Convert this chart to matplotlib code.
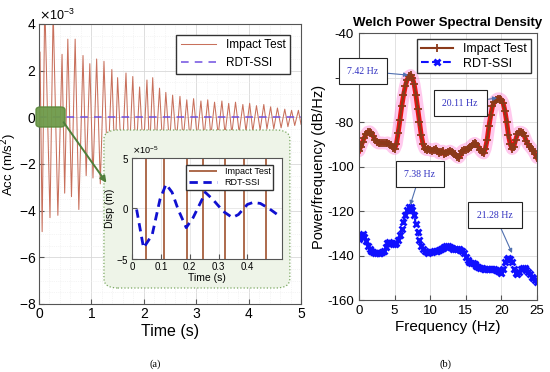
import matplotlib
matplotlib.use("Agg")
import matplotlib.pyplot as plt
from matplotlib.patches import FancyBboxPatch, FancyArrowPatch
from matplotlib.ticker import AutoMinorLocator
import numpy as np

plt.rcParams['font.family'] = ['Liberation Sans', 'DejaVu Sans']
plt.rcParams['axes.unicode_minus'] = False

# ---- (a) acceleration time history, peaks / troughs (x1e-3 m/s^2)
peak_t = [0.02, 0.11, 0.27, 0.44, 0.55, 0.69, 0.84, 0.97, 1.10, 1.24, 1.39, 1.50, 1.66,
          1.79, 1.92, 2.06, 2.17, 2.30, 2.42, 2.55, 2.69, 2.82, 2.95, 3.09, 3.22, 3.35,
          3.49, 3.62, 3.75, 3.89, 4.02, 4.15, 4.29, 4.42, 4.55, 4.69, 4.82, 4.95]
peak_v = [2.8, 5.0, 4.6, 2.7, 3.35, 3.35, 2.65, 2.3, 2.5, 2.4, 2.05, 1.7, 1.9,
          1.75, 1.3, 1.6, 1.7, 1.25, 1.07, 0.95, 0.9, 0.75, 0.8, 0.7, 0.75, 0.65,
          0.7, 0.6, 0.65, 0.55, 0.6, 0.5, 0.55, 0.45, 0.4, 0.35, 0.3, 0.3]
trough_t = [0.06, 0.21, 0.36, 0.49, 0.62, 0.76, 0.90, 1.03, 1.17, 1.31, 1.45, 1.58, 1.72,
            1.85, 1.99, 2.11, 2.23, 2.36, 2.49, 2.62, 2.75, 2.88, 3.02, 3.15, 3.28, 3.42,
            3.55, 3.68, 3.82, 3.95, 4.08, 4.22, 4.35, 4.48, 4.62, 4.75, 4.88, 5.0]
trough_v = [-4.9, -4.3, -4.2, -3.25, -3.4, -3.95, -2.5, -2.6, -2.85, -2.4, -2.2, -2.1, -1.9,
            -1.8, -1.6, -1.5, -1.4, -1.3, -1.2, -1.1, -1.0, -0.95, -0.9, -0.85, -0.8, -0.75,
            -0.7, -0.7, -0.65, -0.6, -0.6, -0.55, -0.5, -0.5, -0.45, -0.4, -0.35, -0.3]
rdt_t = [0, 5]
rdt_v = [0, 0]

# inset: displacement (x1e-5 m)
imp_line_t = [0.049, 0.111, 0.191, 0.247, 0.323, 0.390, 0.466]
ins_t = [0.016, 0.04, 0.07, 0.097, 0.118, 0.139, 0.16, 0.188, 0.212, 0.243, 0.254,
         0.28, 0.317, 0.348, 0.369, 0.40, 0.42, 0.445, 0.475, 0.504]
ins_v = [-0.1, -3.9, -2.6, 0.9, 2.4, 1.6, -0.1, -1.9, -0.9, 0.9, 1.6,
         0.9, -0.3, -0.9, -0.6, 0.4, 0.6, 0.5, 0.0, -0.6]

# ---- (b) Welch PSD, 0.25 Hz steps
freq = np.arange(0, 25.01, 0.25)
psd_imp = [-93, -91, -89, -87, -85.5, -84.5, -84.3, -85, -86.5, -88, -89, -89.5, -89.5,
           -89.3, -89.5, -89.5, -89.3, -89.8, -90.5, -91.5, -92, -90, -85, -79, -73, -68,
           -64, -61, -59.5, -59, -60, -63, -68, -74, -80, -86, -90, -92, -92.5, -92,
           -92.5, -93, -92.5, -92, -93, -94, -93.5, -93, -94.5, -94, -93.5, -93, -93.5,
           -94, -94.5, -95.5, -96, -95, -93, -92.5, -92.5, -92, -91.5, -91, -90, -89.5,
           -90, -91, -92.5, -93.5, -94, -92, -88, -82, -77, -73, -71, -70, -69.5, -69.5,
           -70, -71.5, -75, -80, -86, -90, -92, -91, -88, -85.5, -84.5, -84.5, -85, -86.5,
           -88.5, -90, -91, -92, -93, -94.5, -96]
psd_rdt = [-132.5, -131, -130.5, -131.5, -133.5, -135.5, -137, -138, -138.5, -139, -139,
           -139, -139, -138.5, -138, -136, -134.5, -134, -134.5, -135, -135, -134.5, -133,
           -131, -128, -125, -122, -119.5, -118, -118, -119.5, -122, -126, -129.5, -133,
           -135.5, -137, -138, -138.5, -139, -138.5, -138.5, -138, -138, -138, -137.5, -137,
           -136.5, -136, -135.5, -135.5, -136, -136.5, -137, -137, -137, -137, -137.5, -138,
           -139, -140.5, -142, -143, -143.5, -143.5, -144, -144.5, -145, -145.5, -145.5, -146,
           -146, -146, -146, -146, -146, -146, -146.5, -147, -147.5, -148, -146, -143, -141.5,
           -141, -141.5, -143, -146, -148, -148.5, -147.5, -146, -145.5, -145.5, -146.5,
           -147.5, -148.5, -149.5, -150, -151, -152]

sig_t = [0.0]
sig_v = [0.0]
for pt, pv, tt, tv in zip(peak_t, peak_v, trough_t, trough_v):
    sig_t += [pt, tt]
    sig_v += [pv, tv]
sig_v = np.array(sig_v) * 1e-3

fig = plt.figure(figsize=(5.5, 3.72), dpi=100)

# ---------------- left panel
ax = fig.add_axes([0.0709, 0.1828, 0.4764, 0.7527])
ax.plot(sig_t, sig_v, color='#c8705c', lw=0.75, label='Impact Test')
ax.plot(rdt_t, rdt_v, color='#7050e0', lw=1.1, ls=(0, (5, 4)), label='RDT-SSI')
ax.set_xlim(0, 5)
ax.set_ylim(-8e-3, 4e-3)
ax.set_yticks(np.arange(-8e-3, 4.1e-3, 2e-3))
ax.ticklabel_format(axis='y', style='sci', scilimits=(0, 0), useMathText=True)
ax.yaxis.get_offset_text().set_fontsize(9)
ax.xaxis.set_minor_locator(AutoMinorLocator(5))
ax.yaxis.set_minor_locator(AutoMinorLocator(4))
ax.grid(True, which='major', color='#d8d8d8', lw=0.6)
ax.grid(True, which='minor', color='#ececec', lw=0.5, ls=':')
ax.tick_params(which='both', direction='in', labelsize=10, color='#555555', pad=2)
ax.tick_params(which='minor', length=0)
for s in ax.spines.values():
    s.set_color('#555555')
ax.set_xlabel('Time (s)', fontsize=11.5, labelpad=2)
ax.set_ylabel('Acc (m/s$^2$)', fontsize=9.5)
ax.yaxis.set_label_coords(-0.078, 0.5)
ax.legend(loc='upper right', fontsize=8.5, fancybox=False, edgecolor='#333333',
          framealpha=1, handlelength=3.0, borderaxespad=0.9, borderpad=0.4)

# green highlight and zoom box
fig.add_artist(FancyBboxPatch((0.0655, 0.6586), 0.0527, 0.0538,
                              boxstyle='round,pad=0,rounding_size=0.008',
                              transform=fig.transFigure, facecolor='#6e9a4a',
                              edgecolor='#5c8a3c', alpha=0.95, zorder=2))
fig.add_artist(FancyBboxPatch((0.189, 0.2258), 0.338, 0.4247,
                              boxstyle='round,pad=0,rounding_size=0.025',
                              transform=fig.transFigure, facecolor='#eef4e8',
                              edgecolor='#7aa860', ls=':', lw=0.9, zorder=2))
fig.add_artist(FancyArrowPatch((0.1127, 0.6774), (0.1964, 0.5027),
                               transform=fig.transFigure, arrowstyle='-|>',
                               mutation_scale=9, color='#4f7f3a', lw=1.4, zorder=5))

# inset
axi = fig.add_axes([0.24, 0.3038, 0.2727, 0.2715], zorder=4)
axi.vlines(imp_line_t, -1, 1, color='#a0522d', lw=1.2, label='Impact Test')
axi.plot(ins_t, np.array(ins_v) * 1e-5, color='#1010d0', lw=2, ls=(0, (3, 2)),
         label='RDT-SSI')
axi.set_xlim(0, 0.52)
axi.set_ylim(-5e-5, 5e-5)
axi.set_xticks([0, 0.1, 0.2, 0.3, 0.4])
axi.set_xticklabels(['0', '0.1', '0.2', '0.3', '0.4'])
axi.set_yticks([-5e-5, 0, 5e-5])
axi.ticklabel_format(axis='y', style='sci', scilimits=(0, 0), useMathText=True)
axi.yaxis.get_offset_text().set_fontsize(6.5)
axi.tick_params(direction='in', labelsize=7, pad=2, color='#555555')
axi.grid(True, color='#e0e0e0', lw=0.5)
for s in axi.spines.values():
    s.set_color('#555555')
axi.set_xlabel('Time (s)', fontsize=7.5, labelpad=1)
axi.set_ylabel('Disp (m)', fontsize=7.5, labelpad=1)
axi.legend(loc='upper right', fontsize=6.5, fancybox=False, edgecolor='#333333',
           framealpha=1, handlelength=3.2, borderaxespad=0.3, borderpad=0.3,
           labelspacing=0.2, bbox_to_anchor=(0.96, 0.96))

# ---------------- right panel
axr = fig.add_axes([0.6527, 0.1935, 0.3236, 0.7177])
axr.plot(freq, psd_imp, color='#ff66cc', lw=9, alpha=0.35, solid_capstyle='round')
axr.plot(freq, psd_imp, color='#ee1111', lw=3.5)
axr.plot(freq, psd_imp, color='#8b3a1a', lw=1.5, marker='+', ms=6, mew=1.3,
         label='Impact Test')
axr.plot(freq, psd_rdt, color='#1010ff', lw=1.5, ls='--', marker='x', ms=5, mew=2,
         label='RDT-SSI')
axr.set_xlim(0, 25)
axr.set_ylim(-160, -40)
axr.set_xticks(np.arange(0, 26, 5))
axr.set_yticks(np.arange(-160, -39, 20))
axr.grid(True, color='#dddddd', lw=0.6)
axr.tick_params(direction='in', labelsize=9.5, color='#555555')
for s in axr.spines.values():
    s.set_color('#555555')
axr.set_title('Welch Power Spectral Density', fontsize=9.5, fontweight='bold', pad=5)
axr.set_xlabel('Frequency (Hz)', fontsize=11, labelpad=2)
axr.set_ylabel('Power/frequency (dB/Hz)', fontsize=10.5, labelpad=1)
axr.legend(loc='upper right', fontsize=9, fancybox=False, edgecolor='#333333',
           framealpha=1, handlelength=2.6, borderaxespad=0.5, borderpad=0.3,
           labelspacing=0.2)

notes = [('7.42 Hz', (6.9, -58.9), (0.56, -57.1)),
         ('20.11 Hz', (19.4, -69.2), (14.2, -71.5)),
         ('7.38 Hz', (7.2, -117.3), (8.57, -103.4)),
         ('21.28 Hz', (21.5, -138.9), (19.1, -121.8))]
for txt, tip, pos in notes:
    axr.annotate(txt, xy=tip, xytext=pos, ha='center', va='center', fontsize=7,
                 family=['Liberation Serif', 'DejaVu Serif'], color='#3030c0',
                 bbox=dict(boxstyle='square,pad=0.9', fc='white', ec='#222222', lw=0.8),
                 arrowprops=dict(arrowstyle='-|>', color='#5070b0', lw=0.8,
                                 mutation_scale=6, shrinkA=0, shrinkB=0))

fig.text(155 / 550, 1 - 364 / 372, '(a)', ha='center', va='center', fontsize=7.5,
         family=['Liberation Serif', 'DejaVu Serif'])
fig.text(445 / 550, 1 - 364 / 372, '(b)', ha='center', va='center', fontsize=7.5,
         family=['Liberation Serif', 'DejaVu Serif'])

fig.savefig('out.png', dpi=100)
